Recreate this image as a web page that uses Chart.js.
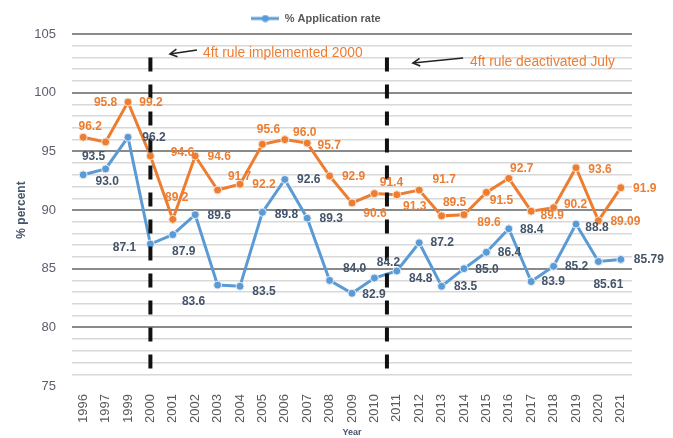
<!DOCTYPE html>
<html><head><meta charset="utf-8">
<script src="https://cdn.jsdelivr.net/npm/chart.js@4/dist/chart.umd.min.js"></script>
<style>html,body{margin:0;padding:0;background:#fff}#wrap{width:673px;height:438px}</style>
</head><body><div id="wrap"><canvas id="c" width="673" height="438"></canvas></div>
<script>
// ---- data ----
const years = ['1996','1997','1999','2000','2001','2002','2003','2004','2005','2006','2007','2008','2009','2010','2011','2012','2013','2014','2015','2016','2017','2018','2019','2020','2021'];
const applicationRate = [93.0,93.5,96.2,87.1,87.9,89.6,83.6,83.5,89.8,92.6,89.3,84.0,82.9,84.2,84.8,87.2,83.5,85.0,86.4,88.4,83.9,85.2,88.8,85.61,85.79];
const orangeSeries = [96.2,95.8,99.2,94.6,89.2,94.6,91.7,92.2,95.6,96.0,95.7,92.9,90.6,91.4,91.3,91.7,89.5,89.6,91.5,92.7,89.9,90.2,93.6,89.09,91.9];
const yTickLabels = [75,80,85,90,95,100,105];
const noteTexts = ['4ft rule implemented 2000','4ft rule deactivated July'];

// ---- label offsets (px, relative to point) ----
const blueLabelDx = [24,-12,26,-26,11,24,-24,24,24,24,24,25,22,14,24,23,24,23,23,23,22,23,21,10,28];
const blueLabelDy = [7,-12,0,4,17,1,17,5,2,0,0,-12,1,-15,8,0,0,1,0,1,0,0,4,23,0];
const orangeLabelDx = [7,0,23,32,4,24,22,24,6,20,22,24,23,17,18,25,13,25,15,13,21,22,24,27,24];
const orangeLabelDy = [-11,-39,1,-3,-22,1,-13,1,-15,-7,3,1,11,-11,12,-10,-13,8,8,-10,5,-3,2,1,1];

const BLUE = '#5B9BD5', ORANGE = '#ED7D31', SLATE = '#44546A';
const FONT = '"Liberation Sans", Arial, sans-serif';
const fmt = v => Math.abs(v*10 - Math.round(v*10)) < 1e-6 ? v.toFixed(1) : v.toFixed(2);

// legend symbol: line with a dot
const sym = document.createElement('canvas');
sym.width = 28; sym.height = 8;
(function(){const g = sym.getContext('2d');
  g.strokeStyle = BLUE; g.lineWidth = 3; g.beginPath(); g.moveTo(0,4); g.lineTo(28,4); g.stroke();
  g.fillStyle = BLUE; g.beginPath(); g.arc(14,4,3.5,0,Math.PI*2); g.fill();})();

const extras = {
  id: 'extras',
  afterDatasetsDraw(chart) {
    const ctx = chart.ctx, xs = chart.scales.x, ys = chart.scales.y;
    const X = v => xs.getPixelForValue(v), Y = v => ys.getPixelForValue(v);
    ctx.save();
    // vertical dashed markers
    ctx.strokeStyle = '#111'; ctx.lineWidth = 4;
    [3, 13.56].forEach(ix => {
      const y1 = Y(103), y2 = Y(76.5), L = y2 - y1, dash = 14, n = 12;
      ctx.setLineDash([dash, (L - n*dash)/(n-1)]);
      ctx.beginPath(); ctx.moveTo(X(ix), y1); ctx.lineTo(X(ix), y2); ctx.stroke();
    });
    ctx.setLineDash([]);
    // arrows
    const arrow = (ax, ay, bx, by) => {
      const x1 = X(ax), y1 = Y(ay), x2 = X(bx), y2 = Y(by);
      ctx.strokeStyle = '#222'; ctx.lineWidth = 1.6;
      ctx.beginPath(); ctx.moveTo(x1,y1); ctx.lineTo(x2,y2); ctx.stroke();
      const a = Math.atan2(y2-y1, x2-x1);
      ctx.beginPath();
      ctx.moveTo(x1 + 8*Math.cos(a-0.5), y1 + 8*Math.sin(a-0.5));
      ctx.lineTo(x1, y1);
      ctx.lineTo(x1 + 8*Math.cos(a+0.5), y1 + 8*Math.sin(a+0.5));
      ctx.stroke();
    };
    arrow(3.875, 103.3, 5.08, 103.64);
    arrow(14.72, 102.53, 16.96, 102.96);
    ctx.fillStyle = ORANGE; ctx.font = '13.8px ' + FONT;
    ctx.textAlign = 'left'; ctx.textBaseline = 'middle';
    ctx.fillText(noteTexts[0], X(5.35), Y(103.38));
    ctx.fillText(noteTexts[1], X(17.27), Y(102.6));
    // data labels
    ctx.font = 'bold 12px ' + FONT;
    ctx.textAlign = 'center';
    const drawLabels = (dsIndex, color, dx, dy) => {
      const meta = chart.getDatasetMeta(dsIndex);
      const data = chart.data.datasets[dsIndex].data;
      ctx.fillStyle = color;
      meta.data.forEach((pt, i) => {
        ctx.fillText(fmt(data[i]), pt.x + dx[i], pt.y + dy[i]);
      });
    };
    drawLabels(1, ORANGE, orangeLabelDx, orangeLabelDy);
    drawLabels(0, SLATE, blueLabelDx, blueLabelDy);
    ctx.restore();
  }
};

new Chart(document.getElementById('c'), {
  type: 'line',
  data: {
    labels: years,
    datasets: [
      { label: '% Application rate', data: applicationRate, borderColor: BLUE, backgroundColor: BLUE,
        borderWidth: 3, pointRadius: 4, pointBackgroundColor: BLUE, pointBorderColor: '#e6eef7', pointBorderWidth: 1, tension: 0 },
      { label: 'Series 2', data: orangeSeries, borderColor: ORANGE, backgroundColor: ORANGE,
        borderWidth: 3, pointRadius: 4, pointBackgroundColor: ORANGE, pointBorderColor: '#f8e2d2', pointBorderWidth: 1, tension: 0 }
    ]
  },
  options: {
    responsive: false, animation: false, devicePixelRatio: 1,
    layout: { padding: { left: 0, right: 41, top: 3, bottom: 0 } },
    plugins: {
      tooltip: { enabled: false },
      legend: {
        display: true, position: 'top', align: 'center',
        labels: {
          filter: item => item.datasetIndex === 0,
          usePointStyle: true, pointStyle: sym, pointStyleWidth: 28,
          color: '#595959', padding: 10,
          font: { family: FONT, size: 11, weight: 'bold' }
        }
      }
    },
    scales: {
      x: {
        offset: true,
        grid: { display: false, drawTicks: false },
        border: { display: false },
        ticks: { autoSkip: false, maxRotation: 90, minRotation: 90, color: '#595959', padding: 8,
                 font: { family: FONT, size: 13 } },
        title: { display: true, text: 'Year', color: SLATE, padding: 0,
                 font: { family: FONT, size: 9, weight: 'bold' } },
        afterFit: s => { s.height = 52; }
      },
      y: {
        min: 75, max: 105,
        border: { display: false },
        grid: {
          drawTicks: false,
          color: c => c.tick.value === 75 ? 'rgba(0,0,0,0)' : (c.tick.value % 5 === 0 ? '#8a8a8a' : '#d8d8d8'),
          lineWidth: c => c.tick.value % 5 === 0 ? 2 : 1.5
        },
        ticks: { stepSize: 1, autoSkip: false, padding: 16, color: '#5a5f6e',
                 font: { family: FONT, size: 13 },
                 callback: v => yTickLabels.includes(v) ? String(v) : '' },
        title: { display: true, text: '% percent', color: SLATE, padding: { top: 14, bottom: 0 },
                 font: { family: FONT, size: 12, weight: 'bold' } },
        afterFit: s => { s.width = 72; }
      }
    }
  },
  plugins: [extras]
});
</script>
</body></html>
